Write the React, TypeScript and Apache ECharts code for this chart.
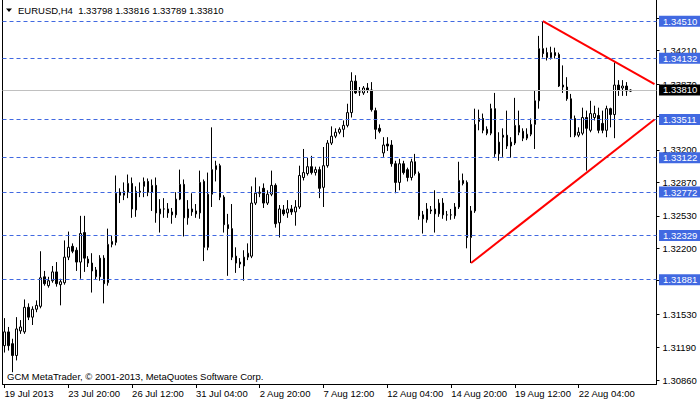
import React, { useEffect, useRef } from "react";
import * as echarts from "echarts";

const FONT = "'Liberation Sans', Arial, sans-serif";
const FS = 9.5;

const open = [
  1.3121, 1.3135, 1.3123, 1.3111, 1.3136, 1.3135, 1.3160, 1.3150, 1.3158, 1.3161,
  1.3191, 1.3182, 1.3187, 1.3196, 1.3183, 1.3185, 1.3211, 1.3222, 1.3218, 1.3206,
  1.3236, 1.3209, 1.3205, 1.3191, 1.3191, 1.3210, 1.3185, 1.3224, 1.3226, 1.3277,
  1.3274, 1.3277, 1.3286, 1.3259, 1.3278, 1.3283, 1.3288, 1.3277, 1.3284, 1.3255,
  1.3260, 1.3260, 1.3257, 1.3254, 1.3270, 1.3285, 1.3251, 1.3260, 1.3258, 1.3256,
  1.3288, 1.3221, 1.3275, 1.3300, 1.3304, 1.3272, 1.3244, 1.3240, 1.3212, 1.3206,
  1.3202, 1.3211, 1.3212, 1.3266, 1.3276, 1.3281, 1.3266, 1.3275, 1.3284, 1.3246,
  1.3259, 1.3256, 1.3260, 1.3257, 1.3262, 1.3292, 1.3296, 1.3303, 1.3297, 1.3300,
  1.3282, 1.3304, 1.3327, 1.3334, 1.3338, 1.3341, 1.3345, 1.3358, 1.3390, 1.3379,
  1.3378, 1.3383, 1.3381, 1.3360, 1.3342, 1.3317, 1.3326, 1.3325, 1.3306, 1.3287,
  1.3306, 1.3300, 1.3292, 1.3308, 1.3296, 1.3254, 1.3249, 1.3259, 1.3260, 1.3255,
  1.3266, 1.3254, 1.3254, 1.3253, 1.3262, 1.3289, 1.3287, 1.3231, 1.3258, 1.3349,
  1.3352, 1.3341, 1.3337, 1.3362, 1.3316, 1.3335, 1.3335, 1.3324, 1.3327, 1.3345,
  1.3339, 1.3332, 1.3336, 1.3346, 1.3370, 1.3423, 1.3419, 1.3414, 1.3419, 1.3417,
  1.3386, 1.3384, 1.3372, 1.3352, 1.3335, 1.3337, 1.3353, 1.3340, 1.3353, 1.3355,
  1.3347, 1.3340, 1.3362, 1.3356, 1.3386, 1.3383, 1.3385, 1.33798,
];

const close = [
  1.3135, 1.3121, 1.3111, 1.3138, 1.3140, 1.3160, 1.3150, 1.3158, 1.3162, 1.3190,
  1.3184, 1.3187, 1.3196, 1.3184, 1.3186, 1.3211, 1.3221, 1.3217, 1.3206, 1.3235,
  1.3210, 1.3205, 1.3197, 1.3198, 1.3210, 1.3184, 1.3224, 1.3227, 1.3276, 1.3274,
  1.3278, 1.3286, 1.3260, 1.3278, 1.3277, 1.3288, 1.3277, 1.3284, 1.3256, 1.3260,
  1.3260, 1.3256, 1.3254, 1.3270, 1.3285, 1.3251, 1.3260, 1.3257, 1.3255, 1.3287,
  1.3221, 1.3275, 1.3300, 1.3304, 1.3272, 1.3244, 1.3240, 1.3211, 1.3205, 1.3204,
  1.3211, 1.3215, 1.3266, 1.3276, 1.3277, 1.3266, 1.3275, 1.3284, 1.3245, 1.3260,
  1.3255, 1.3260, 1.3257, 1.3262, 1.3294, 1.3297, 1.3303, 1.3297, 1.3300, 1.3281,
  1.3304, 1.3327, 1.3334, 1.3338, 1.3341, 1.3345, 1.3358, 1.3390, 1.3378, 1.3379,
  1.3383, 1.3381, 1.3361, 1.3341, 1.3339, 1.3325, 1.3324, 1.3306, 1.3287, 1.3306,
  1.3297, 1.3292, 1.3308, 1.3296, 1.3253, 1.3250, 1.3260, 1.3258, 1.3255, 1.3266,
  1.3254, 1.3254, 1.3254, 1.3262, 1.3289, 1.3286, 1.3231, 1.3258, 1.3346, 1.3352,
  1.3340, 1.3337, 1.3362, 1.3316, 1.3328, 1.3333, 1.3324, 1.3328, 1.3345, 1.3338,
  1.3332, 1.3336, 1.3346, 1.3370, 1.3423, 1.3418, 1.3414, 1.3419, 1.3416, 1.3385,
  1.3384, 1.3372, 1.3352, 1.3335, 1.3338, 1.3353, 1.3342, 1.3357, 1.3357, 1.3340,
  1.3340, 1.3362, 1.3356, 1.3386, 1.3381, 1.3385, 1.3380, 1.33810,
];

const low = [
  1.3114, 1.3116, 1.3094, 1.3106, 1.3133, 1.3133, 1.3147, 1.3142, 1.3155, 1.3159,
  1.3182, 1.3180, 1.3185, 1.3181, 1.3162, 1.3183, 1.3208, 1.3215, 1.3197, 1.3189,
  1.3196, 1.3201, 1.3175, 1.3188, 1.3187, 1.3164, 1.3182, 1.3221, 1.3223, 1.3266,
  1.3269, 1.3271, 1.3251, 1.3252, 1.3272, 1.3272, 1.3273, 1.3258, 1.3246, 1.3236,
  1.3251, 1.3251, 1.3245, 1.3251, 1.3269, 1.3232, 1.3244, 1.3253, 1.3251, 1.3250,
  1.3207, 1.3218, 1.3262, 1.3288, 1.3269, 1.3236, 1.3192, 1.3208, 1.3195, 1.3200,
  1.3187, 1.3208, 1.3210, 1.3264, 1.3272, 1.3261, 1.3264, 1.3273, 1.3241, 1.3231,
  1.3253, 1.3251, 1.3254, 1.3243, 1.3260, 1.3289, 1.3294, 1.3295, 1.3294, 1.3271,
  1.3262, 1.3302, 1.3325, 1.3332, 1.3336, 1.3333, 1.3343, 1.3353, 1.3377, 1.3375,
  1.3376, 1.3378, 1.3359, 1.3331, 1.3337, 1.3313, 1.3319, 1.3303, 1.3276, 1.3279,
  1.3295, 1.3288, 1.3289, 1.3294, 1.3249, 1.3235, 1.3246, 1.3255, 1.3236, 1.3252,
  1.3250, 1.3248, 1.3249, 1.3250, 1.3260, 1.3284, 1.3220, 1.3205, 1.3256, 1.3340,
  1.3337, 1.3335, 1.3335, 1.3313, 1.3309, 1.3313, 1.3321, 1.3312, 1.3325, 1.3335,
  1.3329, 1.3330, 1.3334, 1.3321, 1.3362, 1.3414, 1.3411, 1.3412, 1.3413, 1.3384,
  1.3378, 1.3370, 1.3333, 1.3333, 1.3333, 1.3335, 1.3299, 1.3338, 1.3350, 1.3337,
  1.3337, 1.3333, 1.3343, 1.3332, 1.3375, 1.3375, 1.3375, 1.33789,
];

const high = [
  1.3149, 1.3140, 1.3128, 1.3150, 1.3147, 1.3168, 1.3164, 1.3161, 1.3167, 1.3217,
  1.3197, 1.3191, 1.3202, 1.3206, 1.3189, 1.3228, 1.3237, 1.3225, 1.3221, 1.3253,
  1.3253, 1.3212, 1.3215, 1.3201, 1.3213, 1.3213, 1.3240, 1.3233, 1.3294, 1.3281,
  1.3287, 1.3295, 1.3292, 1.3283, 1.3287, 1.3292, 1.3291, 1.3290, 1.3292, 1.3270,
  1.3271, 1.3266, 1.3261, 1.3277, 1.3300, 1.3290, 1.3269, 1.3276, 1.3265, 1.3299,
  1.3290, 1.3297, 1.3343, 1.3309, 1.3306, 1.3274, 1.3255, 1.3265, 1.3221, 1.3210,
  1.3218, 1.3225, 1.3283, 1.3292, 1.3283, 1.3286, 1.3279, 1.3299, 1.3286, 1.3264,
  1.3264, 1.3269, 1.3264, 1.3269, 1.3304, 1.3321, 1.3312, 1.3314, 1.3303, 1.3303,
  1.3323, 1.3330, 1.3344, 1.3342, 1.3343, 1.3350, 1.3367, 1.3399, 1.3396, 1.3384,
  1.3385, 1.3388, 1.3389, 1.3363, 1.3346, 1.3333, 1.3333, 1.3330, 1.3309, 1.3311,
  1.3309, 1.3302, 1.3311, 1.3316, 1.3298, 1.3258, 1.3266, 1.3263, 1.3279, 1.3270,
  1.3271, 1.3258, 1.3260, 1.3266, 1.3308, 1.3296, 1.3289, 1.3263, 1.3362, 1.3361,
  1.3357, 1.3344, 1.3367, 1.3378, 1.3338, 1.3342, 1.3360, 1.3333, 1.3373, 1.3360,
  1.3342, 1.3342, 1.3352, 1.3380, 1.3436, 1.3451, 1.3424, 1.3425, 1.3424, 1.3419,
  1.3406, 1.3394, 1.3377, 1.3355, 1.3343, 1.3363, 1.3360, 1.3370, 1.3365, 1.3363,
  1.3360, 1.3365, 1.3363, 1.3409, 1.3391, 1.3391, 1.3389, 1.33816,
];

const symbolName = "EURUSD,H4";
const xTickLabels = [
  "19 Jul 2013", "23 Jul 20:00", "26 Jul 12:00", "31 Jul 04:00", "2 Aug 20:00",
  "7 Aug 12:00", "12 Aug 04:00", "14 Aug 20:00", "19 Aug 12:00", "22 Aug 04:00",
];
// all price-scale ticks, and the ones whose labels are not hidden under a level box
const yTicks = [
  1.3086, 1.3119, 1.3153, 1.3187, 1.322, 1.3253, 1.3287, 1.332, 1.3354, 1.3387,
  1.3421, 1.3454,
];
const yTickLabels = [1.3086, 1.3119, 1.3153, 1.322, 1.3253, 1.3287, 1.332, 1.3387, 1.3421];
const levels = [1.3451, 1.34132, 1.33511, 1.33122, 1.32772, 1.32329, 1.31881];
// trend lines: [startIndex, startPrice, endIndex, endPrice]
const trendLines = [
  [135, 1.3451, 163, 1.3387],
  [117, 1.3205, 163, 1.3351],
];
const Y_MIN = 1.3082;
const Y_MAX = 1.34725;
const SLOTS = 164;

const MONTHS = ["Jan", "Feb", "Mar", "Apr", "May", "Jun", "Jul", "Aug", "Sep", "Oct", "Nov", "Dec"];
function buildCategories(): string[] {
  const out: string[] = [];
  let t = Date.UTC(2013, 6, 19, 4, 0);
  while (out.length < SLOTS) {
    const d = new Date(t);
    const wd = d.getUTCDay();
    if (wd !== 0 && wd !== 6) {
      const hh = String(d.getUTCHours()).padStart(2, "0");
      out.push(`${d.getUTCDate()} ${MONTHS[d.getUTCMonth()]} ${hh}:00`);
    }
    t += 4 * 3600 * 1000;
  }
  return out;
}

export default function App() {
  const ref = useRef<HTMLDivElement>(null);
  useEffect(() => {
    if (!ref.current) return;
    const chart = echarts.init(ref.current, null, { renderer: "svg" });
    const categories = buildCategories();
    const data = open.map((o, i) => [o, close[i], low[i], high[i]]);
    const last = data.length - 1;
    const cur = close[last];
    const blue = "#4169e1";

    const labelBase = {
      show: true,
      position: "end",
      distance: 2.5,
      color: "#fff",
      padding: [1, 4, 0, 4],
      lineHeight: 10,
      fontSize: FS,
      fontFamily: FONT,
    };
    const levelItems = levels.map((v) => ({
      yAxis: v,
      lineStyle: { color: blue, type: [4, 3], width: 1 },
      label: { ...labelBase, formatter: v.toFixed(5), backgroundColor: blue },
    }));
    const curItem = {
      yAxis: cur,
      lineStyle: { color: "#c0c0c0", type: "solid", width: 1 },
      label: { ...labelBase, formatter: cur.toFixed(5), backgroundColor: "#000" },
    };
    const trendItems = trendLines.map(([a, pa, b, pb]) => [
      { coord: [categories[a], pa], lineStyle: { color: "#ff0000", width: 2, type: "solid" }, label: { show: false } },
      { coord: [categories[b], pb] },
    ]);

    const title = `${symbolName}  ${open[last].toFixed(5)} ${high[last].toFixed(5)} ${low[last].toFixed(5)} ${close[last].toFixed(5)}`;

    chart.setOption({
      animation: false,
      backgroundColor: "#ffffff",
      textStyle: { fontFamily: FONT },
      grid: { left: 2.5, top: 0, width: 654, height: 384 },
      xAxis: {
        type: "category",
        data: categories,
        boundaryGap: true,
        axisLine: { show: true, lineStyle: { color: "#000", width: 1 } },
        axisTick: {
          show: true,
          alignWithLabel: true,
          interval: (idx: number) => idx % 16 === 0 && idx < 160,
          length: 4,
          lineStyle: { color: "#000" },
        },
        axisLabel: {
          interval: (idx: number) => idx % 16 === 0 && idx < 160,
          align: "left",
          margin: 4,
          color: "#000",
          fontSize: FS,
          fontFamily: FONT,
          formatter: (_v: string, idx: number) => xTickLabels[idx / 16] ?? "",
        },
        splitLine: { show: false },
      },
      yAxis: [
        {
          type: "value",
          position: "right",
          min: Y_MIN,
          max: Y_MAX,
          axisLine: { show: true, lineStyle: { color: "#000", width: 1 } },
          axisTick: { show: true, customValues: yTicks, length: 3, inside: false, lineStyle: { color: "#000" } },
          axisLabel: {
            customValues: yTickLabels,
            formatter: (v: number) => v.toFixed(5),
            margin: 6,
            color: "#000",
            fontSize: FS,
            fontFamily: FONT,
          },
          splitLine: { show: false },
        },
        {
          type: "value",
          position: "left",
          min: Y_MIN,
          max: Y_MAX,
          axisLine: { show: true, onZero: false, lineStyle: { color: "#000", width: 1 } },
          axisTick: { show: false },
          axisLabel: { show: false },
          splitLine: { show: false },
        },
      ],
      series: [
        {
          type: "candlestick",
          data,
          barWidth: 2,
          itemStyle: {
            color: "#ffffff",
            color0: "#000000",
            borderColor: "#000000",
            borderColor0: "#000000",
            borderWidth: 1,
          },
          markLine: {
            silent: true,
            precision: 5,
            symbol: ["none", "none"],
            animation: false,
            data: [...levelItems, curItem, ...trendItems],
          },
        },
      ],
      graphic: [
        { type: "polygon", shape: { points: [[6, 8.5], [12, 8.5], [9, 12]] }, style: { fill: "#000" } },
        {
          type: "text",
          x: 18,
          y: 10,
          style: { text: title, fill: "#000", font: `${FS}px ${FONT}`, verticalAlign: "middle" },
        },
        {
          type: "text",
          x: 7,
          y: 376,
          style: {
            text: "GCM MetaTrader, © 2001-2013, MetaQuotes Software Corp.",
            fill: "#000",
            font: `${FS}px ${FONT}`,
            verticalAlign: "middle",
          },
        },
      ],
    });
    return () => chart.dispose();
  }, []);
  return (
    <div
      ref={ref}
      style={{ position: "absolute", left: 0, top: 0, width: 700, height: 402, background: "#fff" }}
    />
  );
}
